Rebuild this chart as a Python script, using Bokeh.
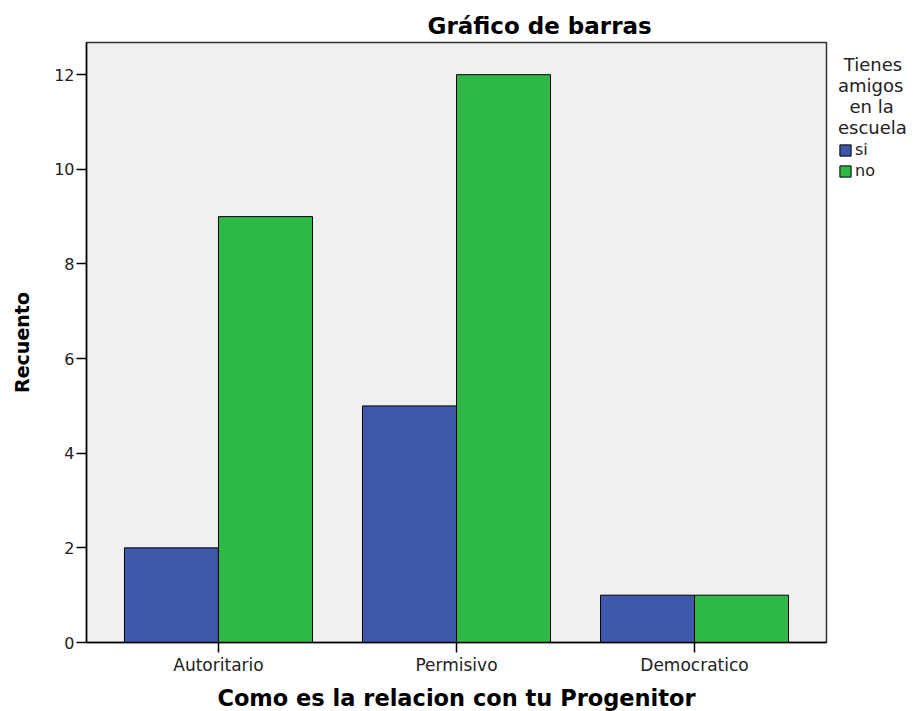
from bokeh.plotting import figure
from bokeh.models import ColumnDataSource, FactorRange, Legend, LegendItem, Range1d
from bokeh.transform import dodge
from bokeh.embed import file_html
from bokeh.resources import INLINE

categories = ["Autoritario", "Permisivo", "Democratico"]
si_values = [2, 5, 1]
no_values = [9, 12, 1]
y_ticks = [0, 2, 4, 6, 8, 10, 12]
legend_title_lines = ["Tienes", "amigos", "en la", "escuela"]
series_labels = ["si", "no"]

FONT = "DejaVu Sans"
NB = "\u00a0"
# centre the title lines visually (legend title is left-aligned)
legend_title = "\n".join([NB + legend_title_lines[0], legend_title_lines[1],
                          NB * 2 + legend_title_lines[2], legend_title_lines[3]])

src = ColumnDataSource(dict(cat=categories, si=si_values, no=no_values))

p = figure(frame_width=740, frame_height=600, output_backend="svg", toolbar_location=None,
           x_range=FactorRange(*categories, range_padding=0.0545, range_padding_units="absolute"),
           y_range=Range1d(0, 12.68),
           min_border_left=86, min_border_right=10, min_border_top=42, min_border_bottom=69)

p.title.text = "Gráfico de barras"
p.title.text_font = FONT
p.title.text_font_size = "23px"
p.title.text_font_style = "bold"
p.title.text_color = "black"
p.title.align = "left"
p.title.offset = 341
p.title.standoff = 8

bw = 0.395
r_si = p.vbar(x=dodge("cat", -bw / 2, range=p.x_range), top="si", width=bw, source=src,
              fill_color="#3E58AC", line_color="black", line_width=1)
r_no = p.vbar(x=dodge("cat", bw / 2, range=p.x_range), top="no", width=bw, source=src,
              fill_color="#2EB848", line_color="black", line_width=1)

p.background_fill_color = "#F0F0F0"
p.border_fill_color = "white"
p.outline_line_color = "#333333"
p.outline_line_width = 1.5
p.grid.visible = False

p.yaxis.ticker = y_ticks
p.yaxis.axis_label = "Recuento"
p.xaxis.axis_label = "Como es la relacion con tu Progenitor"
for ax in (p.xaxis[0], p.yaxis[0]):
    ax.axis_label_text_font = FONT
    ax.axis_label_text_font_style = "bold"
    ax.axis_label_text_color = "black"
    ax.major_label_text_font = FONT
    ax.major_label_text_color = "#222222"
    ax.axis_line_color = "black"
    ax.axis_line_width = 1.5
    ax.major_tick_line_color = "black"
    ax.major_tick_line_width = 1.5
    ax.major_tick_in = 0
    ax.major_tick_out = 10
    ax.minor_tick_line_color = None
    ax.major_label_standoff = 2
p.xaxis.major_label_text_font_size = "17px"
p.yaxis.major_label_text_font_size = "16px"
p.yaxis.axis_label_text_font_size = "19px"
p.xaxis.axis_label_text_font_size = "22.5px"
p.xaxis.axis_label_standoff = 7
p.yaxis.axis_label_standoff = 18

legend = Legend(items=[LegendItem(label=series_labels[0], renderers=[r_si]),
                       LegendItem(label=series_labels[1], renderers=[r_no])],
                title=legend_title, location="top_left")
legend.title_text_font = FONT
legend.title_text_font_size = "18px"
legend.title_text_font_style = "normal"
legend.title_text_color = "#222222"
legend.title_standoff = 2
legend.label_text_font = FONT
legend.label_text_font_size = "16px"
legend.label_text_color = "#222222"
legend.glyph_width = 14
legend.glyph_height = 14
legend.label_height = 14
legend.label_standoff = 3
legend.spacing = 2
legend.padding = 0
legend.margin = 12
legend.border_line_color = None
legend.background_fill_color = None
legend.background_fill_alpha = 0
p.add_layout(legend, "right")

open("out.html", "w").write(file_html(p, INLINE))
